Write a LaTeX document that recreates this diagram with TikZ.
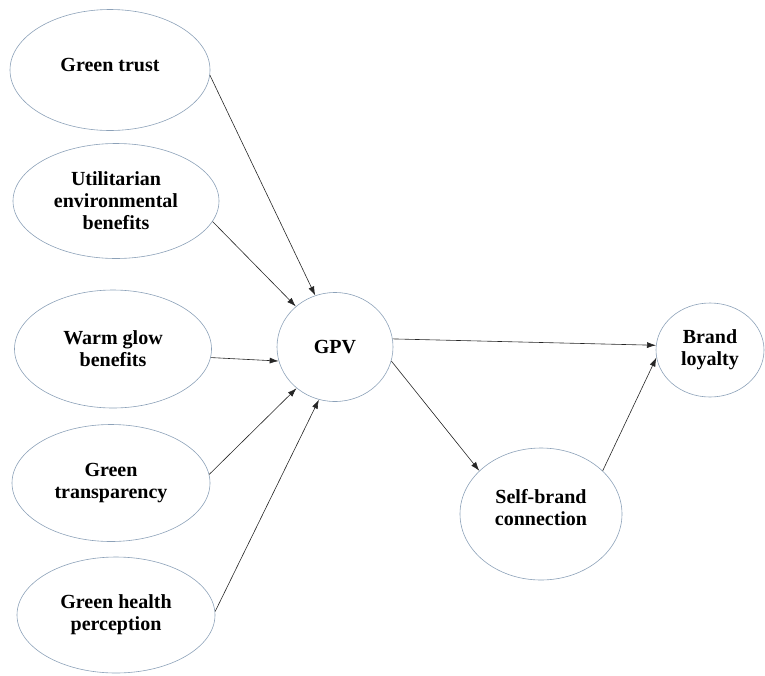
\documentclass[tikz,border=0pt]{standalone}
\usepackage{fontspec}
\setmainfont{Liberation Serif}
\usetikzlibrary{shapes.geometric, arrows.meta}

\begin{document}
\begin{tikzpicture}[x=1pt, y=-1pt, >={Latex[length=9pt, width=6pt]},
        var/.style={ellipse, draw={rgb,1:red,0.55;green,0.63;blue,0.72}, line width=0.6pt,
            inner sep=0pt, align=center, font=\bfseries\fontsize{20}{22}\selectfont},
        path/.style={->, line width=0.6pt, black!85}]
        \useasboundingbox (0,0) rectangle (765,675);

        % 自变量
        \node[var, minimum width=200, minimum height=121, text depth=10pt] (trust) at (110,70) {Green trust};
        \node[var, minimum width=206, minimum height=115] (util) at (116,201) {Utilitarian\\environmental\\benefits};
        \node[var, minimum width=197, minimum height=118] (warm) at (113,349) {Warm glow\\benefits};
        \node[var, minimum width=198, minimum height=117] (transp) at (111,483) {Green\\transparency};
        \node[var, minimum width=198, minimum height=116] (health) at (116,615) {Green health\\perception};

        % 中介与因变量
        \node[var, minimum width=116, minimum height=109] (gpv) at (335,347) {GPV};
        \node[var, minimum width=108, minimum height=94] (loyal) at (710,350) {Brand\\loyalty};
        \node[var, minimum width=162, minimum height=132, text depth=14pt] (selfb) at (541,514) {Self-brand\\connection};

        % 路径
        \draw[path] (trust.-3) -- (gpv.111);
        \draw[path] (util.-12) -- (gpv.134);
        \draw[path] (warm.-5) -- (gpv.194);
        \draw[path] (transp.5) -- (gpv.227);
        \draw[path] (health.2) -- (gpv.253);
        \draw[path] (gpv.8) -- (loyal.175);
        \draw[path] (gpv.-14) -- (selfb.145);
        \draw[path] (selfb.35) -- (loyal.188);

    \end{tikzpicture}
\end{document}
